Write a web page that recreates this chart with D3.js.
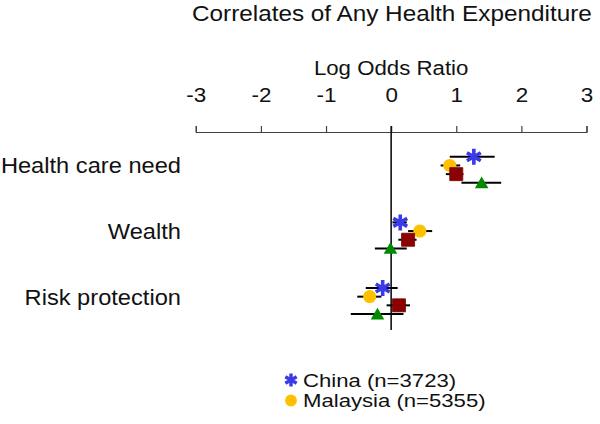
<!DOCTYPE html>
<html>
<head>
<meta charset="utf-8">
<script src="https://cdn.jsdelivr.net/npm/d3@7"></script>
<style>
  body { margin: 0; background: #fff; }
  svg { display: block; font-family: "Liberation Sans", Arial, sans-serif; }
</style>
</head>
<body>
<svg id="chart" width="600" height="424"></svg>
<script>
// ---- data ----
const title = "Correlates of Any Health Expenditure";
const axisLabel = "Log Odds Ratio";
const categories = ["Health care need", "Wealth", "Risk protection"];
const tickValues = [-3, -2, -1, 0, 1, 2, 3];
const seriesNames = ["China (n=3723)", "Malaysia (n=5355)", "Series 3", "Series 4"];
const legendNames = ["China (n=3723)", "Malaysia (n=5355)"];
// estimates per category (order of categories)
const chinaEst = [1.27, 0.14, -0.13];
const chinaLo  = [0.90, 0.02, -0.39];
const chinaHi  = [1.59, 0.24, 0.10];
const malayEst = [0.90, 0.44, -0.33];
const malayLo  = [0.76, 0.26, -0.52];
const malayHi  = [1.06, 0.63, -0.15];
const s3Est = [1.00, 0.26, 0.12];
const s3Lo  = [0.84, 0.11, -0.07];
const s3Hi  = [1.11, 0.39, 0.29];
const s4Est = [1.39, -0.01, -0.21];
const s4Lo  = [1.08, -0.25, -0.62];
const s4Hi  = [1.69, 0.24, 0.19];

const series = [
  {name: seriesNames[0], est: chinaEst, lo: chinaLo, hi: chinaHi, sym: "asterisk", color: "#3a3ae6"},
  {name: seriesNames[1], est: malayEst, lo: malayLo, hi: malayHi, sym: "circle",   color: "#ffc000"},
  {name: seriesNames[2], est: s3Est,    lo: s3Lo,    hi: s3Hi,    sym: "square",   color: "#8b0000"},
  {name: seriesNames[3], est: s4Est,    lo: s4Lo,    hi: s4Hi,    sym: "triangle", color: "#008a00"}
];

const svg = d3.select("#chart");

const x = d3.scaleLinear().domain([-3, 3]).range([195.8, 586.5]);
const yCat = d3.scaleBand().domain(categories).range([137, 333.8]).padding(0);
const ySer = d3.scalePoint().domain(seriesNames).range([-13, 13]);

function stretch(f) {
  return sel => sel.each(function() {
    const w = this.getComputedTextLength();
    d3.select(this).attr("textLength", w * f).attr("lengthAdjust", "spacingAndGlyphs");
  });
}

// title
svg.append("text").attr("x", 192).attr("y", 21).attr("font-size", 21.5).attr("fill", "#111")
  .text(title).call(stretch(1.13));

// axis label
svg.append("text").attr("x", x(0)).attr("y", 75).attr("font-size", 19.5).attr("fill", "#111")
  .attr("text-anchor", "middle").text(axisLabel).call(stretch(1.14));

// top axis
const axis = d3.axisTop(x).tickValues(tickValues).tickSize(6).tickPadding(24)
  .tickFormat(d3.format("d"));
const gAxis = svg.append("g").attr("transform", "translate(0,132)").call(axis);
gAxis.select(".domain").attr("stroke", "#404040").attr("stroke-width", 1.2);
gAxis.selectAll(".tick line").attr("stroke", "#404040").attr("stroke-width", 1.2);
gAxis.selectAll(".tick text").attr("font-size", 20).attr("fill", "#111")
  .attr("font-family", "'Liberation Sans', Arial, sans-serif")
  .text(d => d < 0 ? "-" + Math.abs(d) : d).call(stretch(1.12));

// zero line
svg.append("line").attr("x1", x(0)).attr("x2", x(0)).attr("y1", 126).attr("y2", 330)
  .attr("stroke", "#111").attr("stroke-width", 1.6);

// category labels
svg.append("g").selectAll("text").data(categories).join("text")
  .attr("x", 181).attr("y", d => yCat(d) + yCat.bandwidth() / 2 + 3.5)
  .attr("text-anchor", "end").attr("font-size", 21.5).attr("fill", "#111")
  .text(d => d).call(stretch(1.1));

const symTypes = {asterisk: d3.symbolAsterisk, circle: d3.symbolCircle, square: d3.symbolSquare, triangle: d3.symbolTriangle};
const symSize = {asterisk: 180, circle: 135, square: 170, triangle: 80};
const symOffset = {asterisk: 0, circle: 0, square: 0, triangle: 1.5};

function drawSymbol(g, s) {
  const path = g.append("path").attr("d", d3.symbol(symTypes[s.sym], symSize[s.sym])());
  if (s.sym === "asterisk") {
    path.attr("fill", "none").attr("stroke", s.color).attr("stroke-width", 3.6);
  } else {
    path.attr("fill", s.color).attr("stroke", s.sym === "square" ? "#7a0000" : "none").attr("stroke-width", 0.8);
  }
  return path;
}

// error bars + markers
series.forEach(s => {
  const g = svg.append("g");
  categories.forEach((c, i) => {
    const yy = yCat(c) + yCat.bandwidth() / 2 + ySer(s.name);
    g.append("line").attr("x1", x(s.lo[i])).attr("x2", x(s.hi[i]))
      .attr("y1", yy).attr("y2", yy).attr("stroke", "#000").attr("stroke-width", 2);
  });
  categories.forEach((c, i) => {
    const yy = yCat(c) + yCat.bandwidth() / 2 + ySer(s.name);
    const m = g.append("g").attr("transform", `translate(${x(s.est[i])},${yy + symOffset[s.sym]})`);
    drawSymbol(m, s);
  });
});

// legend
const legendY = d3.scalePoint().domain(legendNames).range([380, 400.5]);
const lg = svg.append("g");
legendNames.forEach(n => {
  const s = series.find(d => d.name === n);
  const item = lg.append("g").attr("transform", `translate(291,${legendY(n)})`);
  const p = item.append("path");
  if (s.sym === "asterisk") {
    p.attr("d", d3.symbol(d3.symbolAsterisk, 120)()).attr("fill", "none").attr("stroke", s.color).attr("stroke-width", 3.4);
  } else {
    p.attr("d", d3.symbol(symTypes[s.sym], 110)()).attr("fill", s.color);
  }
  item.append("text").attr("x", 12).attr("y", 6.8).attr("font-size", 18.3).attr("fill", "#111")
    .text(n).call(stretch(1.21));
});
</script>
</body>
</html>
